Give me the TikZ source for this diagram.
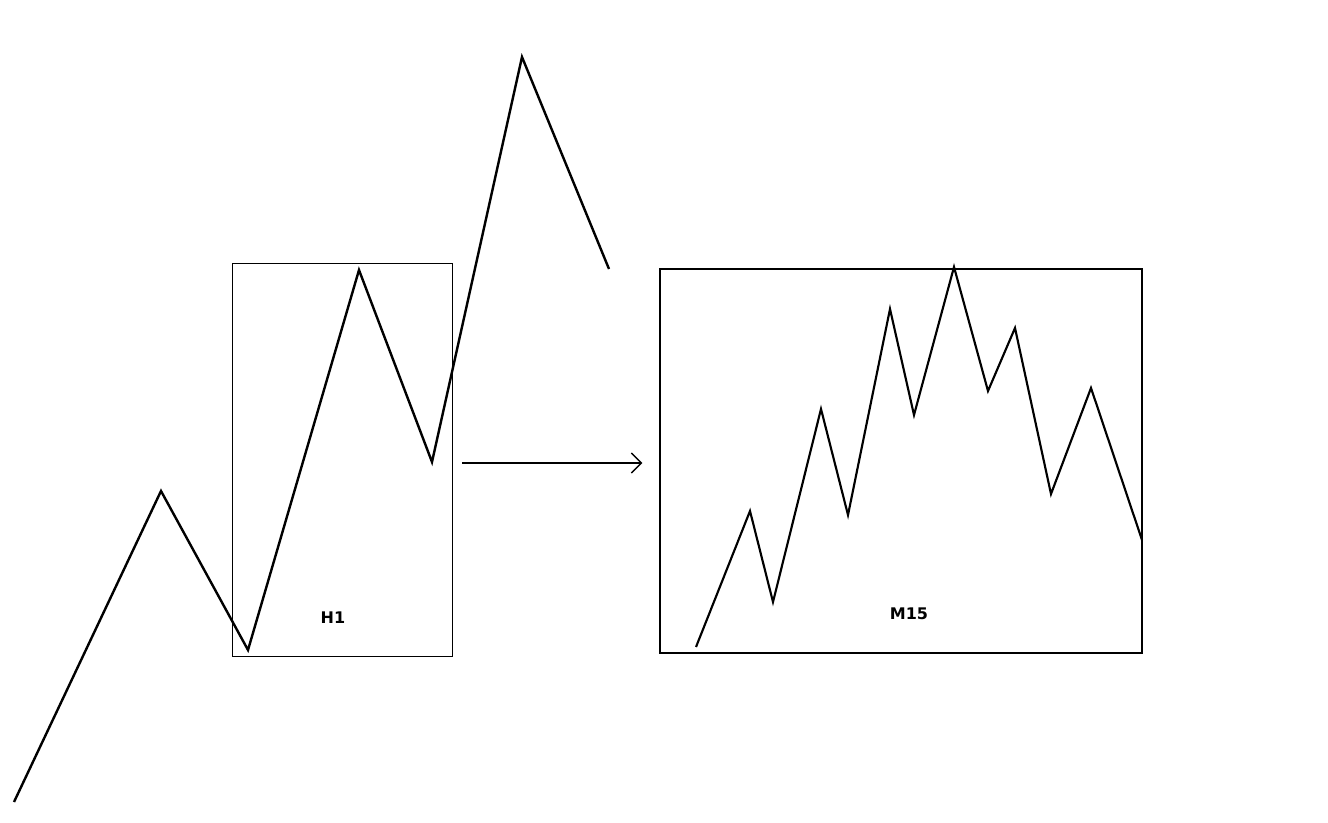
\documentclass[tikz,border=0pt]{standalone}
\usepackage{fontspec}
\setmainfont{DejaVu Sans}
\usetikzlibrary{arrows.meta}

\begin{document}
\begin{tikzpicture}[
    x=0.75pt, y=-0.75pt,
    trend/.style={line width=1.8pt, line join=miter},
    frame/.style={rectangle, draw, inner sep=0pt},
    tf/.style={font=\fontsize{12}{14}\selectfont\bfseries}
]
\useasboundingbox (0,0) rectangle (1328,823);

% Tendance principale
\draw[trend] (14,802) -- (161,491) -- (248,650) -- (359,270) -- (432,462) -- (522,57) -- (609,269);

% Cadres
\node[frame, line width=0.7pt, minimum width=165pt, minimum height=294.75pt] (h1) at (342,459.5) {};
\node[frame, line width=1.4pt, minimum width=361.5pt, minimum height=288pt] (m15) at (901,461) {};

% Zoom M15
\draw[trend, line width=1.6pt] (696,647) -- (750,511) -- (773,602) -- (821,409) -- (848,515) -- (890,309) -- (914,415) -- (954,267) -- (988,391) -- (1015,328) -- (1051,494) -- (1091,388) -- (1142,540);

% Etiquettes
\node[tf] (h1lbl) at (333,618) {H1};
\node[tf] (m15lbl) at (909,614) {M15};

% Fleche
\draw[line width=1.1pt, -{Straight Barb[length=7.5pt, width=15pt]}, shorten <=7.5pt, shorten >=12.5pt] (h1.east |- 0,463) -- (m15.west |- 0,463);

\end{tikzpicture}
\end{document}
